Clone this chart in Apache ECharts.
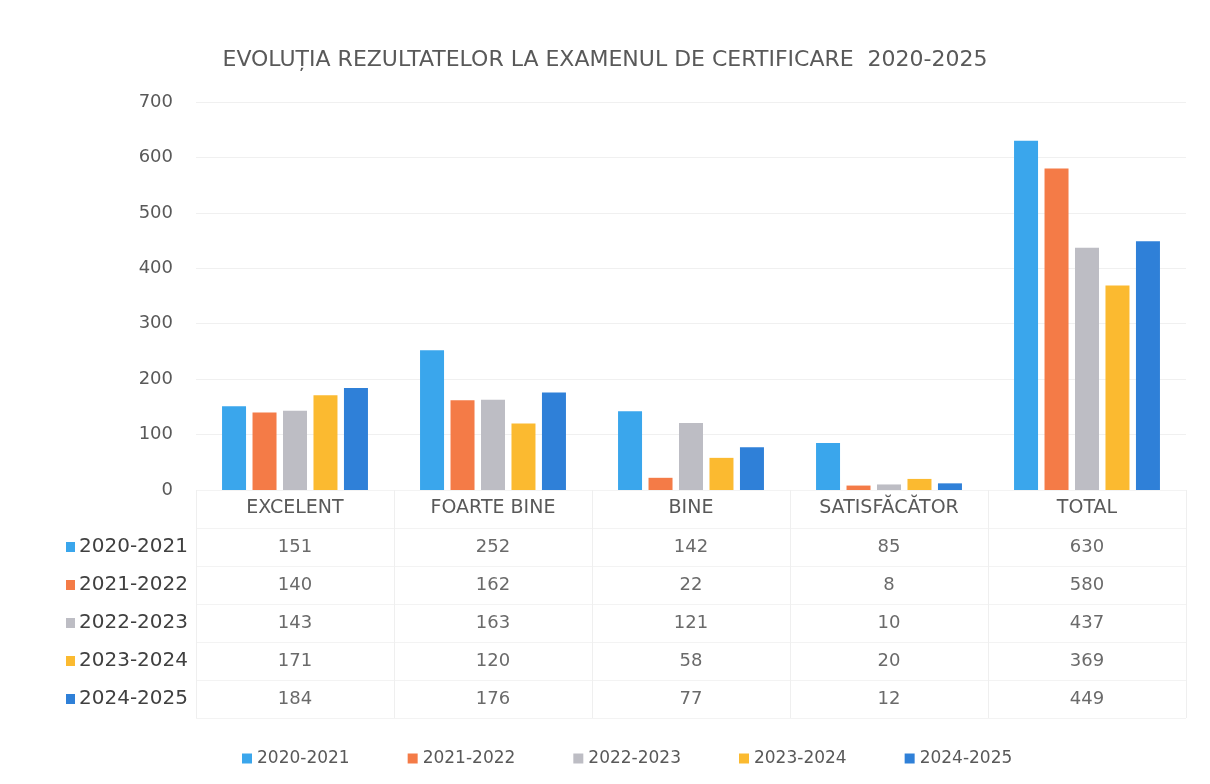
<!DOCTYPE html>
<html>
<head>
<meta charset="utf-8">
<script src="https://cdn.jsdelivr.net/npm/echarts@6/dist/echarts.min.js"></script>
<style>
  html, body { margin: 0; padding: 0; background: #fff; }
</style>
</head>
<body>
<div id="main" style="width: 1210px;height:784px;"></div>

<script type="text/javascript">

    var categories = ["EXCELENT", "FOARTE BINE", "BINE", "SATISFĂCĂTOR", "TOTAL"];
    var seriesNames = ["2020-2021", "2021-2022", "2022-2023", "2023-2024", "2024-2025"];
    var v2021 = [151, 252, 142, 85, 630];
    var v2122 = [140, 162, 22, 8, 580];
    var v2223 = [143, 163, 121, 10, 437];
    var v2324 = [171, 120, 58, 20, 369];
    var v2425 = [184, 176, 77, 12, 449];
    var yTicks = [0, 100, 200, 300, 400, 500, 600, 700];

    var values = [v2021, v2122, v2223, v2324, v2425];
    var colors = ['#3AA6EC', '#F47B47', '#BDBDC4', '#FBBA30', '#2F80D8'];

    var font = "DejaVu Sans";
    var textColor = '#595959';

    var ec = echarts.init(document.getElementById('main'));

    // bars
    var series = [];
    for (var i = 0; i < seriesNames.length; i++) {
        series.push({
            name: seriesNames[i],
            type: 'bar',
            xAxisIndex: 0,
            yAxisIndex: 0,
            barWidth: 24,
            barGap: '27%',
            itemStyle: { color: colors[i] },
            data: values[i]
        });
    }

    // data table under the chart: cell texts
    var cells = [];
    for (var i = 0; i < values.length; i++) {
        for (var j = 0; j < categories.length; j++) {
            cells.push([j, i + 1, values[i][j]]);
        }
    }
    series.push({
        type: 'scatter',
        xAxisIndex: 1,
        yAxisIndex: 1,
        silent: true,
        symbolSize: 1,
        itemStyle: { color: 'rgba(0,0,0,0)' },
        label: {
            show: true,
            position: 'inside',
            formatter: function (p) { return p.value[2]; },
            fontFamily: font,
            fontSize: 18,
            color: '#454545'
        },
        data: cells
    });

    var rowRich = { t: { fontFamily: font, fontSize: 20, color: '#404040', padding: [0, 0, 0, 4] } };
    for (var i = 0; i < colors.length; i++) {
        rowRich['s' + (i + 1)] = { width: 9, height: 10, backgroundColor: colors[i] };
    }

    var option = {
        backgroundColor: '#fff',
        title: {
            text: "EVOLUȚIA REZULTATELOR LA EXAMENUL DE CERTIFICARE  2020-2025",
            left: 'center',
            top: 44,
            textStyle: { fontFamily: font, fontSize: 22, fontWeight: 'normal', color: textColor }
        },
        legend: {
            data: seriesNames,
            left: 237,
            top: 745,
            icon: 'rect',
            itemWidth: 10,
            itemHeight: 10,
            itemGap: 58,
            textStyle: { fontFamily: font, fontSize: 17, color: textColor }
        },
        grid: [
            { left: 196, right: 24, top: 102, bottom: 294 },
            { left: 196, right: 24, top: 490, height: 228 }
        ],
        xAxis: [
            {
                type: 'category',
                gridIndex: 0,
                data: categories,
                axisLine: { show: false },
                axisTick: { show: false },
                axisLabel: { margin: 9, fontFamily: font, fontSize: 19, color: textColor, interval: 0 }
            },
            {
                type: 'category',
                gridIndex: 1,
                data: categories,
                axisLine: { show: false },
                axisTick: { show: false },
                axisLabel: { show: false },
                splitLine: { show: true, interval: 0, lineStyle: { color: '#efefef' } }
            }
        ],
        yAxis: [
            {
                type: 'value',
                gridIndex: 0,
                min: yTicks[0],
                max: yTicks[yTicks.length - 1],
                interval: 100,
                axisLabel: { margin: 23, fontFamily: font, fontSize: 18, color: textColor },
                splitLine: { lineStyle: { color: '#f0f0f0' } }
            },
            {
                type: 'category',
                gridIndex: 1,
                inverse: true,
                data: [''].concat(seriesNames),
                axisLine: { show: false },
                axisTick: { show: false },
                splitLine: { show: true, interval: 0, lineStyle: { color: '#f3f3f3' } },
                axisLabel: {
                    margin: 8,
                    formatter: function (v, idx) {
                        if (!v) return '';
                        return '{s' + idx + '|}{t|' + v + '}';
                    },
                    rich: rowRich
                }
            }
        ],
        series: series
    };

    ec.setOption(option);
</script>
</body>
</html>
